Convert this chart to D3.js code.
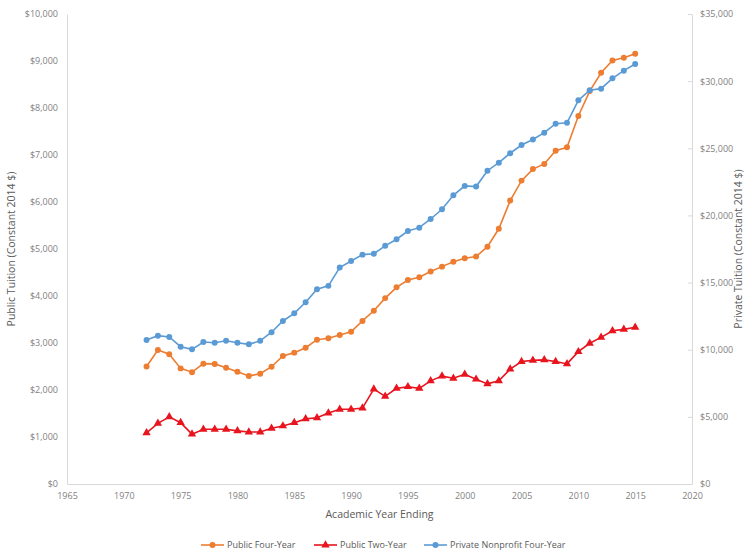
<!DOCTYPE html>
<html>
<head>
<meta charset="utf-8">
<script src="https://cdn.jsdelivr.net/npm/d3@7"></script>
<style>
  body { margin: 0; background: #fff; }
  text { font-family: "Open Sans", "Noto Sans", sans-serif; }
  .axis text { fill: #7f7f7f; font-size: 9px; }
  .axis path, .axis line { stroke: #d9d9d9; }
  .title { fill: #595959; font-size: 10.5px; }
  .legend text { fill: #595959; font-size: 9px; }
</style>
</head>
<body>
<div id="chart"></div>
<script>
const width = 749;
const height = 556;
const margin = { top: 14, right: 57, bottom: 72, left: 67 };

// academic year ending
const years = d3.range(1972, 2016);

// public four-year, constant 2014 $ (left axis)
const publicFour = [2500, 2850, 2760, 2460, 2380, 2560, 2555, 2475, 2390, 2300,
  2345, 2495, 2725, 2795, 2900, 3070, 3100, 3170, 3240, 3470,
  3685, 3955, 4185, 4340, 4400, 4520, 4625, 4730, 4805, 4840,
  5050, 5430, 6030, 6455, 6700, 6810, 7090, 7165, 7830, 8360,
  8750, 9010, 9070, 9155];

// public two-year (left axis)
const publicTwo = [1090, 1290, 1430, 1305, 1060, 1165, 1165, 1165, 1130, 1105,
  1105, 1185, 1235, 1305, 1385, 1410, 1510, 1590, 1590, 1615,
  2020, 1865, 2035, 2070, 2035, 2195, 2295, 2250, 2335, 2230,
  2130, 2195, 2445, 2605, 2630, 2640, 2605, 2555, 2815, 2995,
  3120, 3260, 3290, 3335];

// private nonprofit four-year (right axis)
const privateFour = [10720, 11045, 10950, 10225, 10030, 10575, 10520, 10670, 10520, 10400,
  10660, 11300, 12140, 12710, 13530, 14510, 14755, 16120, 16610, 17080,
  17150, 17735, 18225, 18840, 19090, 19735, 20460, 21500, 22200, 22150,
  23330, 23930, 24630, 25245, 25650, 26160, 26830, 26900, 28570, 29320,
  29440, 30210, 30780, 31280];

const xTicks = d3.range(1965, 2021, 5);
const leftTicks = d3.range(0, 10001, 1000);
const rightTicks = d3.range(0, 35001, 5000);

const seriesNames = ["Public Four-Year", "Public Two-Year", "Private Nonprofit Four-Year"];
const colors = ["#ed7d31", "#e8141e", "#5b9bd5"];

const w = width - margin.left - margin.right;
const h = height - margin.top - margin.bottom;

const svg = d3
  .select("#chart")
  .append("svg")
  .attr("width", width)
  .attr("height", height);

const g = svg
  .append("g")
  .attr("transform", "translate(" + margin.left + "," + margin.top + ")");

const x = d3.scaleLinear().domain([1965, 2020]).range([0, w]);
const yLeft = d3.scaleLinear().domain([0, 10000]).range([h, 0]);
const yRight = d3.scaleLinear().domain([0, 35000]).range([h, 0]);

const money = (d) => "$" + d3.format(",")(d);

// axes
g.append("g")
  .attr("class", "axis")
  .call(d3.axisLeft(yLeft).tickValues(leftTicks).tickFormat(money).tickSize(0).tickPadding(9));

g.append("g")
  .attr("class", "axis")
  .attr("transform", "translate(" + w + ",0)")
  .call(d3.axisRight(yRight).tickValues(rightTicks).tickFormat(money)
    .tickSizeInner(-4).tickSizeOuter(0).tickPadding(8));

g.append("g")
  .attr("class", "axis")
  .attr("transform", "translate(0," + h + ")")
  .call(d3.axisBottom(x).tickValues(xTicks).tickFormat(d3.format("d")).tickSize(0).tickPadding(9));

// axis titles
svg.append("text")
  .attr("class", "title")
  .attr("transform", "translate(15," + (margin.top + h / 2) + ") rotate(-90)")
  .attr("text-anchor", "middle")
  .text("Public Tuition (Constant 2014 $)");

svg.append("text")
  .attr("class", "title")
  .attr("transform", "translate(742," + (margin.top + h / 2) + ") rotate(-90)")
  .attr("text-anchor", "middle")
  .text("Private Tuition (Constant 2014 $)");

svg.append("text")
  .attr("class", "title")
  .attr("x", margin.left + w / 2)
  .attr("y", 518)
  .attr("text-anchor", "middle")
  .text("Academic Year Ending");

// series
const series = [
  { name: seriesNames[0], values: publicFour, y: yLeft, color: colors[0], symbol: d3.symbolCircle },
  { name: seriesNames[1], values: publicTwo, y: yLeft, color: colors[1], symbol: d3.symbolTriangle },
  { name: seriesNames[2], values: privateFour, y: yRight, color: colors[2], symbol: d3.symbolCircle },
];

series.forEach((s) => {
  const pts = years.map((yr, i) => [yr, s.values[i]]);
  g.append("path")
    .datum(pts)
    .attr("fill", "none")
    .attr("stroke", s.color)
    .attr("stroke-width", 1.6)
    .attr("d", d3.line().x((d) => x(d[0])).y((d) => s.y(d[1])));
  g.selectAll(null)
    .data(pts)
    .enter()
    .append("path")
    .attr("transform", (d) => "translate(" + x(d[0]) + "," + s.y(d[1]) + ")")
    .attr("d", d3.symbol().type(s.symbol).size(s.symbol === d3.symbolTriangle ? 30 : 28))
    .attr("fill", s.color);
});

// legend
const legendX = [201, 314, 424];
const legend = svg.append("g").attr("class", "legend");
series.forEach((s, i) => {
  const lg = legend.append("g").attr("transform", "translate(" + legendX[i] + ",545)");
  lg.append("line")
    .attr("x1", 0).attr("x2", 23)
    .attr("stroke", s.color)
    .attr("stroke-width", 1.6);
  lg.append("path")
    .attr("transform", "translate(11.5,0)")
    .attr("d", d3.symbol().type(s.symbol).size(s.symbol === d3.symbolTriangle ? 30 : 28))
    .attr("fill", s.color);
  lg.append("text")
    .attr("x", 26)
    .attr("dy", "0.35em")
    .text(s.name);
});
</script>
</body>
</html>
